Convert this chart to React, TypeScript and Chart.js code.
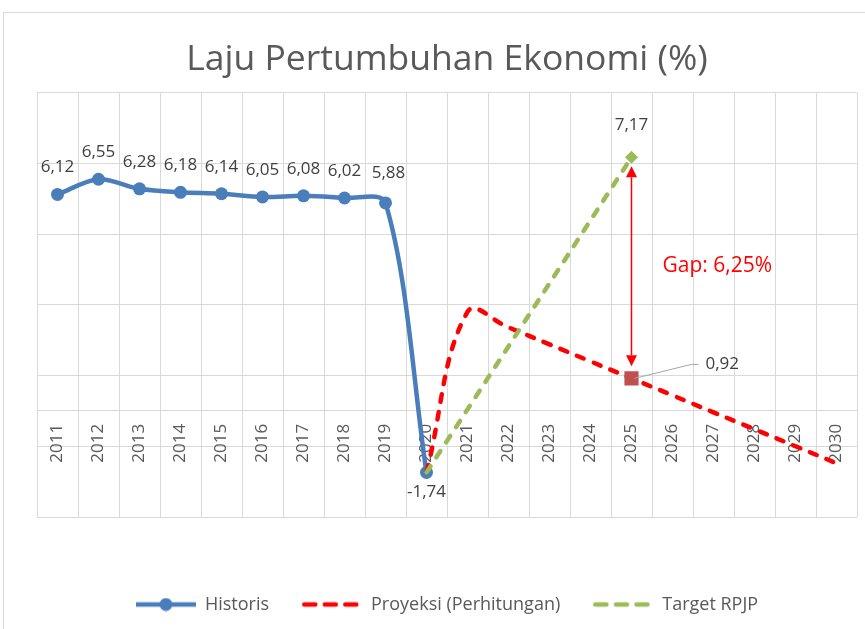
import React, { useEffect, useRef } from 'react';
import { Chart, registerables } from 'chart.js';

Chart.register(...registerables);

// ---------------- data ----------------
const YEARS = [
  '2011', '2012', '2013', '2014', '2015', '2016', '2017', '2018', '2019', '2020',
  '2021', '2022', '2023', '2024', '2025', '2026', '2027', '2028', '2029', '2030',
];
const HISTORIS: (number | null)[] = [
  6.12, 6.55, 6.28, 6.18, 6.14, 6.05, 6.08, 6.02, 5.88, -1.74,
  null, null, null, null, null, null, null, null, null, null,
];
const PROYEKSI: (number | null)[] = [
  null, null, null, null, null, null, null, null, null, -1.74,
  2.8, 2.36, 1.88, 1.4, 0.92, 0.44, -0.04, -0.52, -1.0, -1.48,
];
const TARGET: (number | null)[] = [
  null, null, null, null, null, null, null, null, null, -1.74,
  null, null, null, null, 7.17, null, null, null, null, null,
];
const SERIES_NAMES = ['Historis', 'Proyeksi (Perhitungan)', 'Target RPJP'];
const TITLE = 'Laju Pertumbuhan Ekonomi (%)';
const GAP_YEAR = '2025';
const Y_MIN = -3;
const Y_MAX = 9;
const Y_STEP = 2;

// ---------------- styles ----------------
const FONT = '"Open Sans", "Noto Sans", sans-serif';
const BLUE = '#4A7EBB';
const RED = '#FF0000';
const GREEN = '#9BBB59';
const MARKER_RED = '#C0504D';
const GRID = '#D9D9D9';
const TEXT = '#595959';
const LABEL = '#404040';

const fmt = (v: number) => v.toFixed(2).replace('.', ',');

function makeSample(color: string, dashed: boolean, marker: boolean) {
  const c = document.createElement('canvas');
  c.width = 60;
  c.height = 14;
  const g = c.getContext('2d')!;
  g.strokeStyle = color;
  g.lineWidth = 4.5;
  g.beginPath();
  if (dashed) {
    g.lineCap = 'round';
    g.setLineDash([11, 9.5]);
    g.moveTo(2.25, 7);
    g.lineTo(58, 7);
  } else {
    g.moveTo(0, 7);
    g.lineTo(60, 7);
  }
  g.stroke();
  if (marker) {
    g.fillStyle = color;
    g.beginPath();
    g.arc(30, 7, 6.5, 0, Math.PI * 2);
    g.fill();
  }
  return c;
}

const framePlugin = {
  id: 'outerFrame',
  beforeDraw(chart: any) {
    const { ctx } = chart;
    ctx.save();
    ctx.strokeStyle = GRID;
    ctx.lineWidth = 1;
    ctx.strokeRect(3.5, 12.5, 2000, 2000);
    ctx.restore();
  },
};

const labelPlugin = {
  id: 'valueLabels',
  afterDatasetsDraw(chart: any) {
    const { ctx } = chart;
    const xs = chart.scales.x;
    const ys = chart.scales.y;
    const gi = YEARS.indexOf(GAP_YEAR);
    ctx.save();
    ctx.font = `17px ${FONT}`;
    ctx.fillStyle = LABEL;
    ctx.textAlign = 'center';
    ctx.textBaseline = 'middle';
    // Historis labels
    HISTORIS.forEach((v, i) => {
      if (v == null) return;
      const px = xs.getPixelForValue(i);
      const py = ys.getPixelForValue(v);
      const next = HISTORIS[i + 1];
      if (v < 0) {
        ctx.fillText(fmt(v), px, py + 20);
      } else if (next != null && next < v - 3) {
        ctx.fillText(fmt(v), px + 3, py - 30);
      } else {
        ctx.fillText(fmt(v), px, py - 27);
      }
    });
    // Target label
    const tv = TARGET[gi] as number;
    ctx.fillText(fmt(tv), xs.getPixelForValue(gi), ys.getPixelForValue(tv) - 32);
    // Proyeksi label with leader line
    const pv = PROYEKSI[gi] as number;
    const px = xs.getPixelForValue(gi);
    const py = ys.getPixelForValue(pv);
    ctx.strokeStyle = '#A6A6A6';
    ctx.lineWidth = 1;
    ctx.beginPath();
    ctx.moveTo(px + 3, py);
    ctx.lineTo(px + 60, py - 14);
    ctx.lineTo(px + 67, py - 14);
    ctx.stroke();
    ctx.textAlign = 'left';
    ctx.fillText(fmt(pv), px + 74, py - 14);
    ctx.restore();
  },
};

const gapPlugin = {
  id: 'gapArrow',
  afterDatasetsDraw(chart: any) {
    const { ctx } = chart;
    const xs = chart.scales.x;
    const ys = chart.scales.y;
    const gi = YEARS.indexOf(GAP_YEAR);
    const tv = TARGET[gi] as number;
    const pv = PROYEKSI[gi] as number;
    const x = xs.getPixelForValue(gi);
    const yT = ys.getPixelForValue(tv) + 9;
    const yB = ys.getPixelForValue(pv) - 12;
    const hl = 11;
    const hw = 5.5;
    ctx.save();
    ctx.strokeStyle = RED;
    ctx.fillStyle = RED;
    ctx.lineWidth = 1.5;
    ctx.beginPath();
    ctx.moveTo(x, yT + hl);
    ctx.lineTo(x, yB - hl);
    ctx.stroke();
    ctx.beginPath();
    ctx.moveTo(x, yT);
    ctx.lineTo(x - hw, yT + hl);
    ctx.lineTo(x + hw, yT + hl);
    ctx.closePath();
    ctx.fill();
    ctx.beginPath();
    ctx.moveTo(x, yB);
    ctx.lineTo(x - hw, yB - hl);
    ctx.lineTo(x + hw, yB - hl);
    ctx.closePath();
    ctx.fill();
    ctx.font = `21px ${FONT}`;
    ctx.textAlign = 'left';
    ctx.textBaseline = 'middle';
    const midY = (ys.getPixelForValue(tv) + ys.getPixelForValue(pv)) / 2 - 2;
    ctx.fillText(`Gap: ${fmt(tv - pv)}%`, x + 31, midY);
    ctx.restore();
  },
};

export default function App() {
  const ref = useRef<HTMLCanvasElement | null>(null);

  useEffect(() => {
    if (!ref.current) return;
    const gi = YEARS.indexOf(GAP_YEAR);
    const samples = [
      makeSample(BLUE, false, true),
      makeSample(RED, true, false),
      makeSample(GREEN, true, false),
    ];
    const chart = new Chart(ref.current, {
      type: 'line',
      data: {
        labels: YEARS,
        datasets: [
          {
            label: SERIES_NAMES[0],
            data: HISTORIS,
            borderColor: BLUE,
            backgroundColor: BLUE,
            borderWidth: 4.5,
            tension: 0.32,
            pointStyle: 'circle',
            pointRadius: 6.5,
            pointBackgroundColor: BLUE,
            pointBorderColor: BLUE,
            pointBorderWidth: 0,
            order: 3,
            xAxisID: 'x',
            yAxisID: 'y',
          },
          {
            label: SERIES_NAMES[1],
            data: PROYEKSI,
            borderColor: RED,
            backgroundColor: RED,
            borderWidth: 4.5,
            borderDash: [7.5, 10.5],
            borderCapStyle: 'round',
            tension: 0.4,
            pointStyle: 'rect',
            pointRadius: (c: any) => (c.dataIndex === gi ? 10 : 0),
            pointBackgroundColor: MARKER_RED,
            pointBorderColor: MARKER_RED,
            pointBorderWidth: 0,
            order: 2,
            xAxisID: 'x',
            yAxisID: 'y',
          },
          {
            label: SERIES_NAMES[2],
            data: TARGET,
            borderColor: GREEN,
            backgroundColor: GREEN,
            borderWidth: 4.5,
            borderDash: [7.5, 10.5],
            borderCapStyle: 'round',
            tension: 0,
            spanGaps: true,
            pointStyle: 'rectRot',
            pointRadius: (c: any) => (c.dataIndex === gi ? 6.5 : 0),
            pointBackgroundColor: GREEN,
            pointBorderColor: GREEN,
            pointBorderWidth: 0,
            order: 1,
            xAxisID: 'x',
            yAxisID: 'y',
          },
        ] as any,
      },
      options: {
        responsive: false,
        animation: false,
        layout: { padding: { left: 37, right: 8, top: 0, bottom: 5.5 } },
        scales: {
          x: {
            type: 'category',
            position: { y: 0 } as any,
            offset: true,
            grid: { offset: true, color: GRID, lineWidth: 1, drawTicks: false },
            border: { display: true, color: GRID, width: 1 },
            ticks: {
              color: TEXT,
              font: { family: FONT, size: 17 },
              minRotation: 90,
              maxRotation: 90,
              padding: 13,
              autoSkip: false,
            },
            afterFit: (s: any) => {
              s.paddingLeft = 0;
              s.paddingRight = 0;
            },
          },
          y: {
            type: 'linear',
            min: Y_MIN,
            max: Y_MAX,
            ticks: { stepSize: Y_STEP, display: false },
            grid: { color: GRID, lineWidth: 1, drawTicks: false },
            border: { display: false },
          },
          pad: {
            type: 'category',
            position: 'bottom',
            display: true,
            grid: { display: false, drawTicks: false },
            ticks: { display: false },
            border: { display: false },
            afterFit: (s: any) => {
              s.height = 45.5;
            },
          },
        } as any,
        plugins: {
          title: {
            display: true,
            text: TITLE,
            color: TEXT,
            font: { family: FONT, size: 35.5, weight: 'normal' as any },
            padding: { top: 39, bottom: 11 },
          },
          legend: {
            display: true,
            position: 'bottom',
            labels: {
              usePointStyle: true,
              pointStyleWidth: 60,
              boxHeight: 14,
              padding: 33,
              color: TEXT,
              font: { family: FONT, size: 18 },
              sort: (a: any, b: any) => a.datasetIndex - b.datasetIndex,
              generateLabels: (ch: any) => {
                const items = (Chart.defaults.plugins.legend.labels as any).generateLabels(ch);
                return items.map((it: any) => ({ ...it, pointStyle: samples[it.datasetIndex] }));
              },
            },
          },
          tooltip: { enabled: false },
        },
      },
      plugins: [framePlugin, labelPlugin, gapPlugin],
    });
    return () => chart.destroy();
  }, []);

  return (
    <div style={{ position: 'fixed', left: 0, top: 0, width: 865, height: 629, background: '#fff' }}>
      <canvas ref={ref} width={865} height={629} style={{ display: 'block' }} />
    </div>
  );
}
